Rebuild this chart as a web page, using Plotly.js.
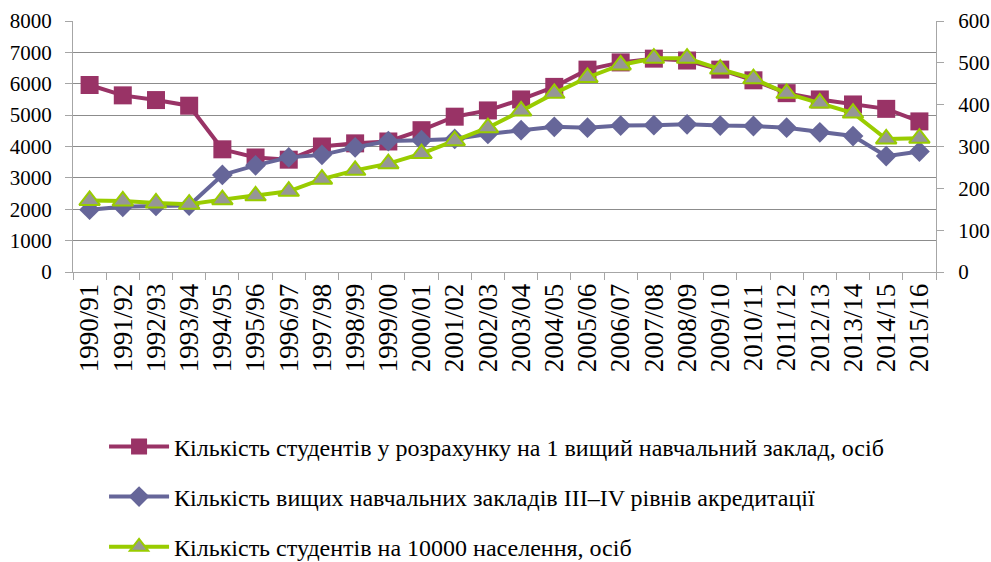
<!DOCTYPE html>
<html>
<head>
<meta charset="utf-8">
<script src="https://cdn.plot.ly/plotly-3.0.1.min.js"></script>
<style>html,body{margin:0;padding:0;background:#fff;}#chart{width:991px;height:562px;}</style>
</head>
<body>
<div id="chart"></div>
<script>
const years = ['1990/91','1991/92','1992/93','1993/94','1994/95','1995/96','1996/97','1997/98','1998/99','1999/00','2000/01','2001/02','2002/03','2003/04','2004/05','2005/06','2006/07','2007/08','2008/09','2009/10','2010/11','2011/12','2012/13','2013/14','2014/15','2015/16'];
const studentsPerHEI = [5960,5630,5480,5300,3910,3650,3580,4000,4100,4160,4520,4950,5150,5500,5900,6450,6680,6800,6740,6450,6110,5700,5500,5340,5200,4800];
const heiCount = [149,156,158,159,232,255,274,280,298,313,315,318,330,339,347,345,350,351,353,350,349,345,334,325,277,288];
const studentsPer10000 = [171,170,165,162,173,182,193,222,243,259,283,314,345,385,427,465,495,511,511,485,462,427,404,380,318,320];

const seriesNames = [
  'Кількість студентів у розрахунку на 1 вищий навчальний заклад, осіб',
  'Кількість вищих навчальних закладів III–IV рівнів акредитації',
  'Кількість студентів на 10000 населення, осіб'
];

const FONT = 'Liberation Serif, Times New Roman, Liberation Sans, Arial, sans-serif';

const traces = [
  {
    x: years, y: studentsPerHEI, name: seriesNames[0], type: 'scatter', mode: 'lines+markers',
    yaxis: 'y', legendgroup: 'a',
    line: {color: '#993366', width: 4},
    marker: {symbol: 'square', size: 18, color: '#993366', line: {width: 0}}
  },
  {
    x: years, y: heiCount, name: seriesNames[1], type: 'scatter', mode: 'lines+markers',
    yaxis: 'y2', legendgroup: 'b',
    line: {color: '#666699', width: 4},
    marker: {symbol: 'diamond', size: 16, color: '#666699', line: {width: 0}}
  },
  {
    x: years, y: studentsPer10000, name: seriesNames[2], type: 'scatter', mode: 'lines+markers',
    yaxis: 'y2', legendgroup: 'c',
    line: {color: '#99CC00', width: 4},
    marker: {symbol: 'triangle-up', size: 18, color: '#969696', line: {width: 2, color: '#99CC00'}}
  }
];

const layout = {
  width: 991, height: 562,
  margin: {l: 73, r: 55, t: 21, b: 290, autoexpand: false},
  paper_bgcolor: '#ffffff', plot_bgcolor: '#ffffff',
  font: {family: FONT, size: 22, color: '#000'},
  showlegend: true,
  legend: {
    xref: 'container', yref: 'container',
    x: 0.105, y: 0.245, xanchor: 'left', yanchor: 'top',
    orientation: 'v', tracegroupgap: 16, itemwidth: 60,
    font: {family: FONT, size: 24, color: '#000'},
    bgcolor: 'rgba(0,0,0,0)'
  },
  xaxis: {
    type: 'category', range: [-0.5, 25.5], automargin: false,
    showline: true, linecolor: '#a6a6a6', linewidth: 1,
    ticks: 'outside', tickson: 'boundaries', ticklen: 7, tickcolor: '#a6a6a6',
    tickangle: -90, showgrid: false, zeroline: false,
    tickfont: {family: FONT, size: 27, color: '#000'}
  },
  yaxis: {
    range: [0, 8000], dtick: 1000, tick0: 0, automargin: false,
    showline: true, linecolor: '#a6a6a6', linewidth: 1,
    ticks: 'outside', ticklen: 7, tickcolor: '#a6a6a6',
    showgrid: true, gridcolor: '#8c8c8c', gridwidth: 1, zeroline: false,
    ticklabelstandoff: 9,
    tickfont: {family: FONT, size: 21, color: '#000'}
  },
  yaxis2: {
    range: [0, 600], dtick: 100, tick0: 0, automargin: false,
    overlaying: 'y', side: 'right', anchor: 'x',
    showline: true, linecolor: '#a6a6a6', linewidth: 1,
    ticks: 'outside', ticklen: 7, tickcolor: '#a6a6a6',
    showgrid: false, zeroline: false,
    ticklabelstandoff: 10,
    tickfont: {family: FONT, size: 21, color: '#000'}
  }
};

Plotly.newPlot('chart', traces, layout, {displayModeBar: false, staticPlot: true});
</script>
</body>
</html>
